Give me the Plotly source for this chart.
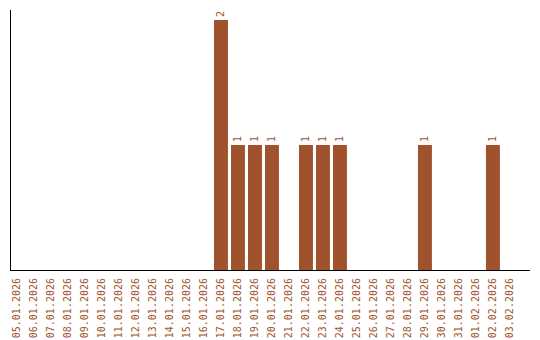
import plotly.graph_objects as go

dates = ["05.01.2026", "06.01.2026", "07.01.2026", "08.01.2026", "09.01.2026",
         "10.01.2026", "11.01.2026", "12.01.2026", "13.01.2026", "14.01.2026",
         "15.01.2026", "16.01.2026", "17.01.2026", "18.01.2026", "19.01.2026",
         "20.01.2026", "21.01.2026", "22.01.2026", "23.01.2026", "24.01.2026",
         "25.01.2026", "26.01.2026", "27.01.2026", "28.01.2026", "29.01.2026",
         "30.01.2026", "31.01.2026", "01.02.2026", "02.02.2026", "03.02.2026"]
counts = [0, 0, 0, 0, 0, 0, 0, 0, 0, 0, 0, 0, 2, 1, 1, 1, 0, 1, 1, 1,
          0, 0, 0, 0, 1, 0, 0, 0, 1, 0]

color = "#A0522D"
font = dict(family="DejaVu Sans Mono", size=10, color=color)

labels = [str(c) if c > 0 else "" for c in counts]

fig = go.Figure(go.Bar(
    x=list(range(len(dates))), y=counts,
    marker=dict(color=color, line=dict(width=0)),
    text=labels, textposition="outside", textangle=-90,
    textfont=font, cliponaxis=False, width=0.82,
))
fig.update_layout(
    width=540, height=340,
    margin=dict(l=11, r=10, t=10, b=70, autoexpand=False),
    paper_bgcolor="white", plot_bgcolor="white",
    showlegend=False,
    font=font,
    uniformtext=dict(minsize=1),
)
fig.update_xaxes(
    range=[-0.353, 30.18], automargin=False,
    tickmode="array", tickvals=list(range(len(dates))), ticktext=dates,
    tickangle=-90, tickfont=font, ticklabelstandoff=3,
    showline=True, linecolor="black", linewidth=1,
    showgrid=False, zeroline=False, ticks="",
)
fig.update_yaxes(
    range=[0, 2.08], automargin=False,
    showline=True, linecolor="black", linewidth=1,
    showgrid=False, zeroline=False, showticklabels=False, ticks="",
)
fig.write_html("out.html")
